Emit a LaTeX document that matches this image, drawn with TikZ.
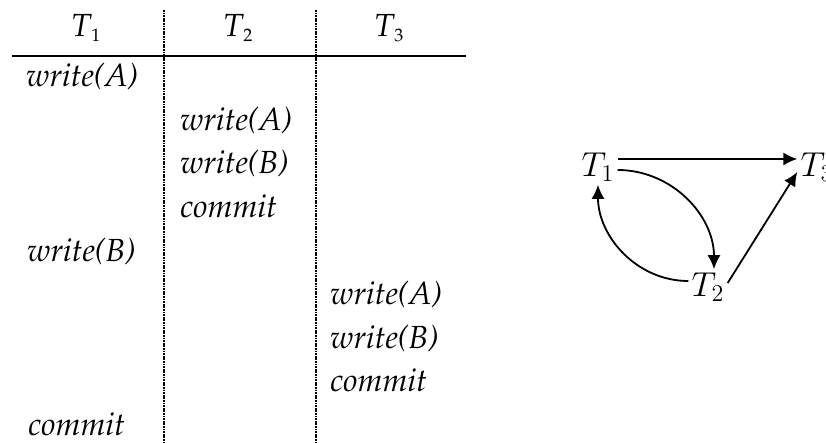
\documentclass[tikz,border=0pt]{standalone}
\usepackage[T1,TU]{fontenc}
\usetikzlibrary{arrows.meta}
\newcommand\pal{\fontencoding{T1}\fontfamily{ppl}\fontsize{16}{19}\selectfont\itshape}
\newcommand\hd[1]{T\raisebox{-2.5pt}{\fontsize{9}{10}\selectfont\upshape #1}}
\tikzset{
	cell/.style={anchor=base west, inner sep=0pt, font=\pal},
	head/.style={anchor=base, inner sep=0pt, font=\pal},
	vertex/.style={inner sep=1.5pt, font=\fontsize{17}{20}\selectfont},
	edge/.style={line width=0.9pt, -{Latex[length=7pt,width=6.5pt]}},
	divider/.style={line width=1.3pt, dash pattern=on 0.9pt off 0.4pt}
}
\begin{document}
\begin{tikzpicture}[x=0.5pt, y=0.5pt]
			%%%%% START %%%%%
			\useasboundingbox (0, 0) rectangle (826, -443);
			
			% schedule table
			\node[head] (h1) at (86, -37) {\hd{1}};
			\node[head] (h2) at (238, -37) {\hd{2}};
			\node[head] (h3) at (389, -37) {\hd{3}};
			\draw[line width=1.3pt] (12, -56) -- (466, -56);
			\draw[divider] (164, -10) -- (164, -443);
			\draw[divider] (316, -10) -- (316, -443);
			
			\node[cell] (w1a) at (26, -87) {write(A)};
			\node[cell] (w2a) at (180, -131) {write(A)};
			\node[cell] (w2b) at (180, -174) {write(B)};
			\node[cell] (c2) at (180, -218) {commit};
			\node[cell] (w1b) at (27, -262) {write(B)};
			\node[cell] (w3a) at (330, -305) {write(A)};
			\node[cell] (w3b) at (330, -349) {write(B)};
			\node[cell] (c3) at (330, -392) {commit};
			\node[cell] (c1) at (28, -436) {commit};
			
			% precedence graph
			\node[vertex] (t1) at (598, -167) {$T_1$};
			\node[vertex] (t2) at (708, -287) {$T_2$};
			\node[vertex] (t3) at (817, -167) {$T_3$};
			
			\draw[edge] ([yshift=4pt]t1.east) -- ([yshift=4pt]t3.west);
			\draw[edge] ([yshift=-1.5pt]t1.east) to[out=0, in=90] ([xshift=3pt]t2.north);
			\draw[edge] ([yshift=3pt]t2.west) to[out=180, in=270] (t1.south);
			\draw[edge] ([yshift=2pt]t2.east) -- ([yshift=-2.5pt]t3.west);
			%%%%% END %%%%%
\end{tikzpicture}
\end{document}
